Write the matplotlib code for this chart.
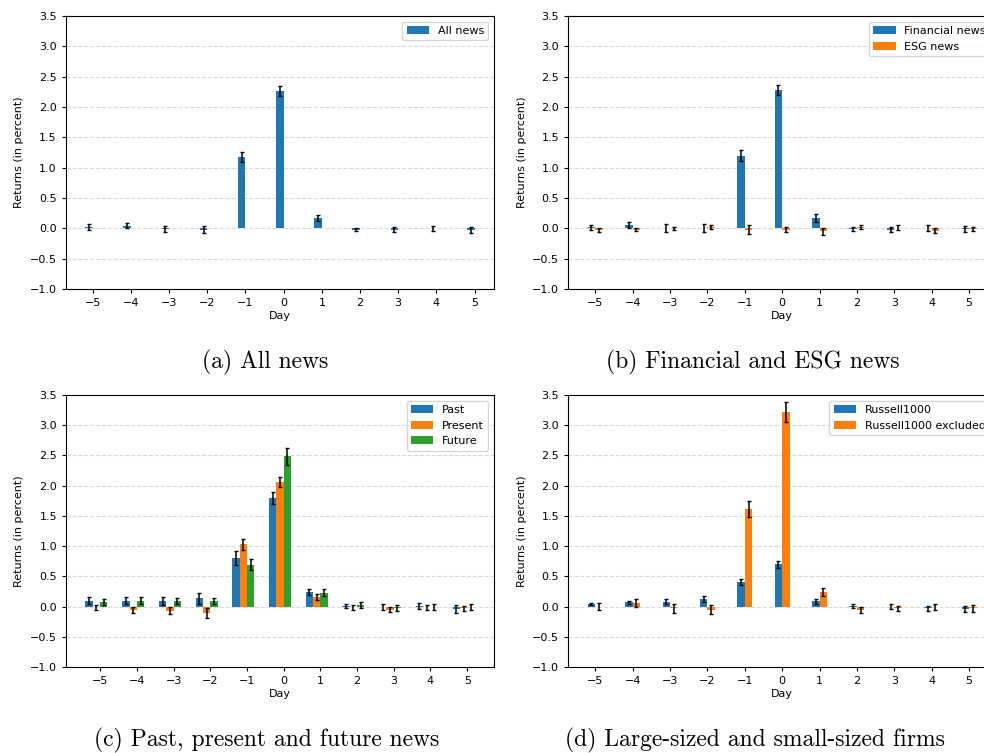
"""
Retornos médios em torno da data da notícia (quatro painéis)
"""

import numpy as np
import matplotlib
matplotlib.use("Agg")
import matplotlib.pyplot as plt

######################################################################
# Dados

dias = [-5, -4, -3, -2, -1, 0, 1, 2, 3, 4, 5]

# (a) todas as notícias
todas = [0.02, 0.04, -0.01, -0.02, 1.18, 2.26, 0.17, -0.02, -0.02, 0.0, -0.03]
todas_err = [0.05, 0.04, 0.05, 0.06, 0.08, 0.08, 0.05, 0.03, 0.04, 0.04, 0.05]

# (b) financeiras e ESG
financeiras = [0.02, 0.05, 0.0, 0.0, 1.20, 2.28, 0.17, -0.01, -0.02, 0.0, -0.01]
financeiras_err = [0.04, 0.05, 0.065, 0.065, 0.09, 0.09, 0.06, 0.04, 0.04, 0.05, 0.05]
esg = [-0.03, -0.02, 0.0, 0.02, -0.02, -0.02, -0.05, 0.02, 0.01, -0.04, -0.01]
esg_err = [0.03, 0.03, 0.03, 0.03, 0.07, 0.04, 0.06, 0.03, 0.04, 0.04, 0.03]

# (c) passado, presente e futuro
passado = [0.10, 0.10, 0.09, 0.14, 0.80, 1.80, 0.24, 0.01, -0.01, 0.01, -0.04]
passado_err = [0.06, 0.06, 0.06, 0.09, 0.12, 0.10, 0.055, 0.04, 0.05, 0.05, 0.06]
presente = [-0.01, -0.05, -0.07, -0.11, 1.03, 2.06, 0.16, -0.01, -0.05, -0.01, -0.03]
presente_err = [0.04, 0.05, 0.06, 0.08, 0.09, 0.09, 0.055, 0.04, 0.04, 0.04, 0.04]
futuro = [0.07, 0.10, 0.09, 0.09, 0.69, 2.49, 0.23, 0.02, -0.03, 0.0, 0.0]
futuro_err = [0.05, 0.06, 0.05, 0.05, 0.09, 0.14, 0.06, 0.05, 0.05, 0.05, 0.05]

# (d) tamanho das firmas
russell = [0.04, 0.07, 0.08, 0.12, 0.41, 0.70, 0.09, 0.01, 0.0, -0.03, -0.04]
russell_err = [0.02, 0.03, 0.04, 0.05, 0.05, 0.06, 0.04, 0.04, 0.04, 0.04, 0.05]
excluidas = [0.0, 0.06, -0.03, -0.05, 1.61, 3.22, 0.24, -0.05, -0.03, 0.0, -0.03]
excluidas_err = [0.06, 0.07, 0.08, 0.07, 0.13, 0.16, 0.07, 0.05, 0.04, 0.05, 0.06]

legendas_a = ["All news"]
legendas_b = ["Financial news", "ESG news"]
legendas_c = ["Past", "Present", "Future"]
legendas_d = ["Russell1000", "Russell1000 excluded"]

legendas_fig = ["(a) All news", "(b) Financial and ESG news",
                "(c) Past, present and future news", "(d) Large-sized and small-sized firms"]

######################################################################

W, H = 984, 753
fig = plt.figure(figsize=(W / 100, H / 100), dpi=100)


def eixo(px_esq, px_dir, px_topo, px_base):
    return fig.add_axes([px_esq / W, 1 - px_base / H, (px_dir - px_esq) / W, (px_base - px_topo) / H])


def painel(ax, series, erros, nomes, deslocs, largura=0.2):
    x = np.array(dias)
    cores = ["tab:blue", "tab:orange", "tab:green"]
    for serie, err, nome, d, cor in zip(series, erros, nomes, deslocs, cores):
        ax.bar(x + d, serie, width=largura, yerr=err, color=cor, label=nome,
               capsize=1.6, error_kw=dict(elinewidth=1.1, capthick=1.0, ecolor="black"))
    ax.set_ylim(-1.0, 3.5)
    ax.set_yticks(np.arange(-1.0, 3.51, 0.5))
    ax.set_xticks(dias)
    ax.set_axisbelow(True)
    ax.yaxis.grid(True, linestyle="--", color="#d9d9d9", linewidth=0.8)
    ax.tick_params(labelsize=8, length=3)
    ax.set_xlabel("Day", fontsize=8, labelpad=2)
    ax.set_ylabel("Returns (in percent)", fontsize=8)
    ax.legend(loc="upper right", fontsize=8)


ax_a = eixo(65.7, 494, 16, 289)
ax_b = eixo(568.3, 996, 16, 289)
ax_c = eixo(66, 494, 395, 667)
ax_d = eixo(568.3, 996, 395, 667)

painel(ax_a, [todas], [todas_err], legendas_a, [-0.1])
painel(ax_b, [financeiras, esg], [financeiras_err, esg_err], legendas_b, [-0.1, 0.1])
painel(ax_c, [passado, presente, futuro], [passado_err, presente_err, futuro_err],
       legendas_c, [-0.3, -0.1, 0.1])
painel(ax_d, [russell, excluidas], [russell_err, excluidas_err], legendas_d, [-0.1, 0.1])

# Legendas das subfiguras (estilo LaTeX)
pos = [(265, 362), (753, 362), (267, 740), (755, 740)]
for texto, (px, py) in zip(legendas_fig, pos):
    fig.text(px / W, 1 - py / H, texto, family="cmr10", fontsize=17,
             ha="center", va="center")

plt.savefig("out.png", dpi=100)
